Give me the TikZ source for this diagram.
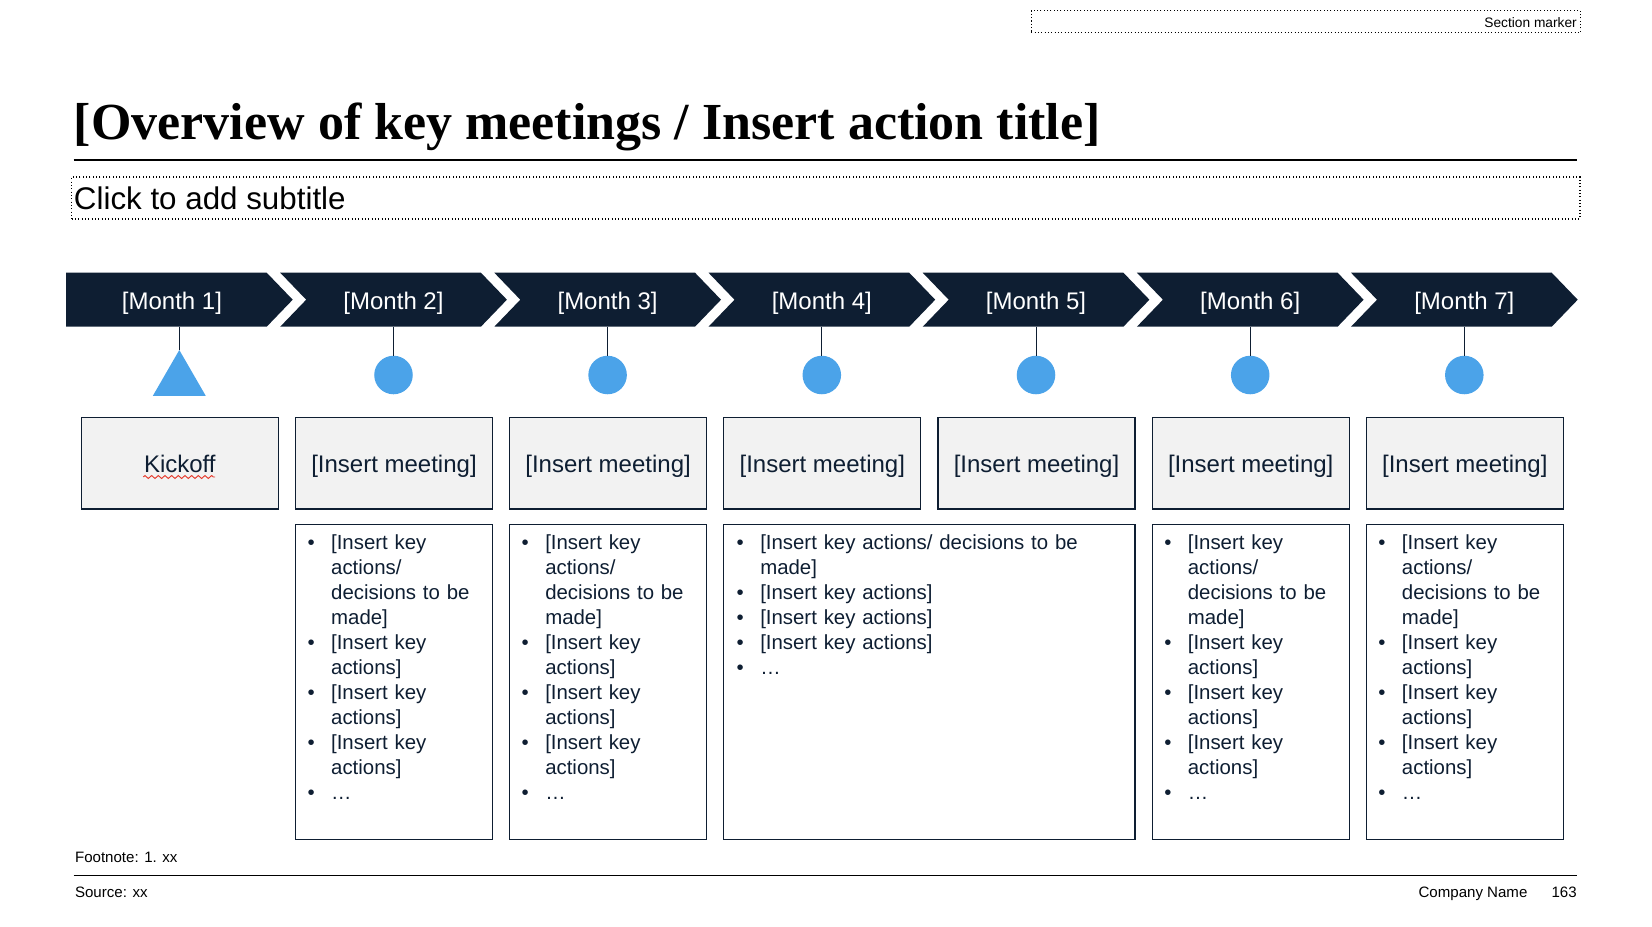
\documentclass[tikz,border=0pt]{standalone}
\usepackage{fontspec}
\setmainfont{Liberation Sans}
\newfontfamily\titlefont{Liberation Serif}
\usepackage{xcolor}
\usepackage{tikz}
\usetikzlibrary{positioning}
\usetikzlibrary{shapes.geometric,decorations.pathmorphing}

\definecolor{navy}{HTML}{0E1E32}
\definecolor{markblue}{HTML}{4BA3E9}
\definecolor{boxgray}{HTML}{F2F2F2}
\definecolor{spellred}{HTML}{E5392B}

\newcommand{\keyitem}[1]{\par\hyphenpenalty=10000\hangindent=17.7pt\hangafter=1\noindent\makebox[17.7pt][l]{\textbullet}#1\par}

\tikzset{
  chevlabel/.style={text=white, inner sep=0pt, font=\fontsize{18}{21.6}\selectfont},
  stem/.style={draw=navy, line width=0.75pt},
  meetdot/.style={circle, fill=markblue, minimum size=28.9pt, inner sep=0pt, outer sep=0pt},
  kickmark/.style={regular polygon, regular polygon sides=3, fill=markblue, minimum size=45.75pt, inner sep=0pt, outer sep=0pt},
  meetbox/.style={draw=navy, line width=1pt, fill=boxgray, minimum width=147.75pt, minimum height=68.8pt, inner sep=0pt, text height=14pt, text depth=0.2pt, text=navy, font=\fontsize{18}{21.6}\selectfont},
  actbox/.style={draw=navy, line width=1pt, minimum height=236.25pt, inner sep=0pt},
  acttext/.style={anchor=north west, inner sep=0pt, text=navy, align=left, font=\fontsize{15.3}{18.75}\selectfont},
  dotbox/.style={draw=black, line width=0.9pt, dash pattern=on 0.9pt off 1.6pt, inner sep=0pt},
  foot/.style={inner sep=0pt, font=\fontsize{11.3}{13.5}\selectfont},
  spellmark/.style={draw=spellred, line width=0.7pt, decorate, decoration={zigzag, amplitude=1.1pt, segment length=5pt}}
}

\begin{document}
\begin{tikzpicture}[x=0.75pt,y=0.75pt,yscale=-1,xscale=1]
\useasboundingbox (0,0) rectangle (1652,926);

% Section marker
\node (secbox) [dotbox, minimum width=411.75pt, minimum height=16.65pt] at (1305.7,21.6) {};
\node (sectxt) [inner sep=0pt, anchor=base east, font=\fontsize{10.3}{12}\selectfont] at (1577,27.4) {Section marker};

% Title and subtitle
\node (title) [anchor=base west, inner sep=0pt, font=\titlefont\bfseries\fontsize{39}{44}\selectfont] at (73.7,139) {[Overview of key meetings / Insert action title]};
\draw [line width=0.9pt] (73.7,160) -- (1577,160) ;
\node (subbox) [dotbox, minimum width=1131.3pt, minimum height=31.5pt] at (825.8,198) {};
\node (subtxt) [anchor=base west, inner sep=0pt, font=\fontsize{23.5}{28}\selectfont] at (73.7,209.5) {Click to add subtitle};

%Shape: Chevron [Month 1]
\fill [navy] (66,272.7) -- (266.7,272.7) -- (292.7,299.7) -- (266.7,326.7) -- (66,326.7) -- cycle ;
%Shape: Chevron [Month 2]
\fill [navy] (280.2,272.7) -- (480.9,272.7) -- (506.9,299.7) -- (480.9,326.7) -- (280.2,326.7) -- (306.2,299.7) -- cycle ;
%Shape: Chevron [Month 3]
\fill [navy] (494.3,272.7) -- (695.0,272.7) -- (721.0,299.7) -- (695.0,326.7) -- (494.3,326.7) -- (520.3,299.7) -- cycle ;
%Shape: Chevron [Month 4]
\fill [navy] (708.5,272.7) -- (909.2,272.7) -- (935.2,299.7) -- (909.2,326.7) -- (708.5,326.7) -- (734.5,299.7) -- cycle ;
%Shape: Chevron [Month 5]
\fill [navy] (922.7,272.7) -- (1123.4,272.7) -- (1149.4,299.7) -- (1123.4,326.7) -- (922.7,326.7) -- (948.7,299.7) -- cycle ;
%Shape: Chevron [Month 6]
\fill [navy] (1136.9,272.7) -- (1337.6,272.7) -- (1363.6,299.7) -- (1337.6,326.7) -- (1136.9,326.7) -- (1162.9,299.7) -- cycle ;
%Shape: Chevron [Month 7]
\fill [navy] (1351.0,272.7) -- (1551.7,272.7) -- (1577.7,299.7) -- (1551.7,326.7) -- (1351.0,326.7) -- (1377.0,299.7) -- cycle ;

% Text Node
\node (mon1) [chevlabel] at (172,303) {[Month 1]};
\node (mon2) [chevlabel] at (393.5,303) {[Month 2]};
\node (mon3) [chevlabel] at (607.6,303) {[Month 3]};
\node (mon4) [chevlabel] at (821.8,303) {[Month 4]};
\node (mon5) [chevlabel] at (1036.0,303) {[Month 5]};
\node (mon6) [chevlabel] at (1250.2,303) {[Month 6]};
\node (mon7) [chevlabel] at (1464.3,303) {[Month 7]};

% chevron bottoms
\coordinate (bot1) at (179.3,326.7);
\coordinate (bot2) at (393.5,326.7);
\coordinate (bot3) at (607.6,326.7);
\coordinate (bot4) at (821.8,326.7);
\coordinate (bot5) at (1036.0,326.7);
\coordinate (bot6) at (1250.2,326.7);
\coordinate (bot7) at (1464.3,326.7);

% Markers
\node (mk1) [kickmark] at (179.3,380.5) {};
\node (mk2) [meetdot] at (393.5,375) {};
\node (mk3) [meetdot] at (607.6,375) {};
\node (mk4) [meetdot] at (821.8,375) {};
\node (mk5) [meetdot] at (1036.0,375) {};
\node (mk6) [meetdot] at (1250.2,375) {};
\node (mk7) [meetdot] at (1464.3,375) {};

%Straight Lines
\draw [stem] (bot1) -- (mk1.north) ;
\draw [stem] (bot2) -- (mk2.north) ;
\draw [stem] (bot3) -- (mk3.north) ;
\draw [stem] (bot4) -- (mk4.north) ;
\draw [stem] (bot5) -- (mk5.north) ;
\draw [stem] (bot6) -- (mk6.north) ;
\draw [stem] (bot7) -- (mk7.north) ;

% Meeting boxes
\node (meet1) [meetbox] at (179.8,463.2) {Kickoff};
\node (meet2) [meetbox] at (394.0,463.2) {[Insert meeting]};
\node (meet3) [meetbox] at (608.1,463.2) {[Insert meeting]};
\node (meet4) [meetbox] at (822.3,463.2) {[Insert meeting]};
\node (meet5) [meetbox] at (1036.5,463.2) {[Insert meeting]};
\node (meet6) [meetbox] at (1250.7,463.2) {[Insert meeting]};
\node (meet7) [meetbox] at (1464.8,463.2) {[Insert meeting]};
\draw [spellmark] (143.3,477) -- (215,477) ;

% Action boxes
\node (act2) [actbox, minimum width=147.75pt] at (394.0,681.8) {};
\node (act3) [actbox, minimum width=147.75pt] at (608.1,681.8) {};
\node (act45) [actbox, minimum width=308.4pt] at (929.4,681.8) {};
\node (act6) [actbox, minimum width=147.75pt] at (1250.7,681.8) {};
\node (act7) [actbox, minimum width=147.75pt] at (1464.8,681.8) {};

% Text Node
\node (act2t) [acttext, text width=128.7pt] at (307.3,524.6) {\keyitem{[Insert key\newline actions/\newline decisions to be\newline made]}\keyitem{[Insert key\newline actions]}\keyitem{[Insert key\newline actions]}\keyitem{[Insert key\newline actions]}\keyitem{…}};
\node (act3t) [acttext, text width=128.7pt] at (521.4,524.6) {\keyitem{[Insert key\newline actions/\newline decisions to be\newline made]}\keyitem{[Insert key\newline actions]}\keyitem{[Insert key\newline actions]}\keyitem{[Insert key\newline actions]}\keyitem{…}};
\node (act45t) [acttext, text width=276.5pt] at (736.4,524.6) {\keyitem{[Insert key actions/ decisions to be\newline made]}\keyitem{[Insert key actions]}\keyitem{[Insert key actions]}\keyitem{[Insert key actions]}\keyitem{…}};
\node (act6t) [acttext, text width=128.7pt] at (1164.0,524.6) {\keyitem{[Insert key\newline actions/\newline decisions to be\newline made]}\keyitem{[Insert key\newline actions]}\keyitem{[Insert key\newline actions]}\keyitem{[Insert key\newline actions]}\keyitem{…}};
\node (act7t) [acttext, text width=128.7pt] at (1378.1,524.6) {\keyitem{[Insert key\newline actions/\newline decisions to be\newline made]}\keyitem{[Insert key\newline actions]}\keyitem{[Insert key\newline actions]}\keyitem{[Insert key\newline actions]}\keyitem{…}};

% Footer
\node (footnote) [foot, anchor=base west] at (74.8,862) {Footnote: 1. xx};
\draw [line width=0.9pt] (73.7,875.5) -- (1577,875.5) ;
\node (source) [foot, anchor=base west] at (74.8,897.5) {Source: xx};
\node (company) [foot, anchor=base east] at (1527.7,897.5) {Company Name};
\node (pagenum) [foot, anchor=base east] at (1577,897) {163};

\end{tikzpicture}
\end{document}
